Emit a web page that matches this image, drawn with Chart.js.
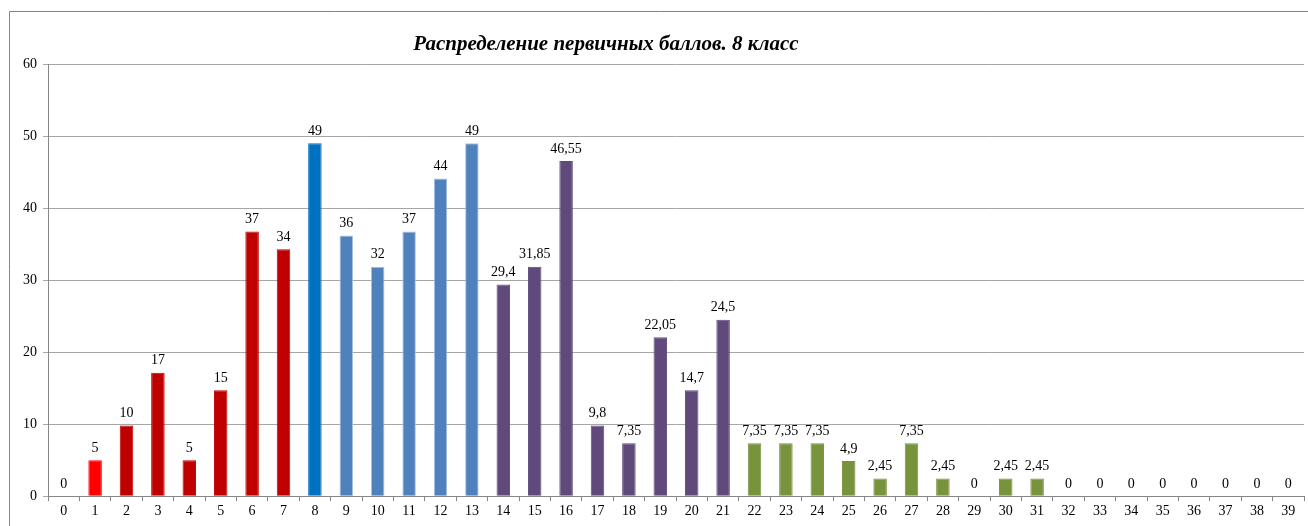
<!DOCTYPE html>
<html>
<head>
<meta charset="utf-8">
<script src="https://cdn.jsdelivr.net/npm/chart.js@4/dist/chart.umd.min.js"></script>
<style>
  html, body { margin: 0; padding: 0; background: #fff; }
  #wrap { position: relative; width: 1308px; height: 526px; }
</style>
</head>
<body>
<div id="wrap"><canvas id="scoreChart" width="1308" height="526"></canvas></div>
<script>
const scores = ["0","1","2","3","4","5","6","7","8","9","10","11","12","13","14","15","16","17","18","19",
  "20","21","22","23","24","25","26","27","28","29","30","31","32","33","34","35","36","37","38","39"];
const percents = [0, 5, 9.8, 17.15, 5, 14.7, 36.75, 34.3, 49, 36.2, 31.85, 36.75, 44.1, 49,
  29.4, 31.85, 46.55, 9.8, 7.35, 22.05, 14.7, 24.5,
  7.35, 7.35, 7.35, 4.9, 2.45, 7.35, 2.45, 0, 2.45, 2.45,
  0, 0, 0, 0, 0, 0, 0, 0];
const valueLabels = ["0","5","10","17","5","15","37","34","49","36","32","37","44","49",
  "29,4","31,85","46,55","9,8","7,35","22,05","14,7","24,5",
  "7,35","7,35","7,35","4,9","2,45","7,35","2,45","0","2,45","2,45",
  "0","0","0","0","0","0","0","0"];
const yTicks = [0, 10, 20, 30, 40, 50, 60];
const chartTitle = "Распределение первичных баллов. 8 класс";

// colour groups by score range
function barColor(i) {
  if (i <= 1) return "#FF0000";
  if (i <= 7) return "#C00000";
  if (i === 8) return "#0070C0";
  if (i <= 13) return "#4F81BD";
  if (i <= 21) return "#604A7B";
  return "#77933C";
}
function barBorder(i) {
  if (i >= 9 && i <= 13) return "#A7C0DE";
  return barColor(i);
}

const serif = "'Liberation Serif', 'Times New Roman', serif";

// outer frame + title (title sits left of centre, like the original)
const frame = {
  id: "frame",
  beforeDraw(chart) {
    const ctx = chart.ctx;
    ctx.save();
    ctx.strokeStyle = "#868686";
    ctx.lineWidth = 1;
    ctx.beginPath();
    ctx.moveTo(9.5, 540);
    ctx.lineTo(9.5, 11.5);
    ctx.lineTo(1320, 11.5);
    ctx.stroke();
    ctx.font = "italic bold 21px " + serif;
    ctx.fillStyle = "#000";
    ctx.textAlign = "center";
    ctx.textBaseline = "middle";
    ctx.fillText(chartTitle, 606, 45);
    ctx.restore();
  }
};

const valueTags = {
  id: "valueTags",
  afterDatasetsDraw(chart) {
    const ctx = chart.ctx;
    const meta = chart.getDatasetMeta(0);
    ctx.save();
    ctx.font = "14px " + serif;
    ctx.fillStyle = "#000";
    ctx.textAlign = "center";
    ctx.textBaseline = "bottom";
    meta.data.forEach((bar, i) => {
      ctx.fillText(valueLabels[i], bar.x, bar.y - 5);
    });
    ctx.restore();
  }
};

new Chart(document.getElementById("scoreChart"), {
  type: "bar",
  data: {
    labels: scores,
    datasets: [{
      data: percents,
      backgroundColor: percents.map((v, i) => barColor(i)),
      borderColor: percents.map((v, i) => barBorder(i)),
      borderWidth: 1,
      barPercentage: 0.43,
      categoryPercentage: 1
    }]
  },
  options: {
    responsive: false,
    animation: false,
    layout: { padding: { left: 17, right: 4, top: 64, bottom: 4 } },
    plugins: {
      legend: { display: false },
      tooltip: { enabled: false },
      title: { display: false }
    },
    scales: {
      x: {
        offset: true,
        grid: {
          offset: true,
          drawOnChartArea: false,
          color: "#868686",
          tickLength: 5
        },
        border: { color: "#868686" },
        ticks: {
          color: "#000",
          font: { family: serif, size: 14 },
          maxRotation: 0,
          autoSkip: false,
          padding: 2
        }
      },
      y: {
        min: 0,
        max: 60,
        afterBuildTicks(axis) { axis.ticks = yTicks.map(v => ({ value: v })); },
        grid: { color: "#A6A6A6", tickLength: 5 },
        border: { color: "#868686" },
        ticks: {
          color: "#000",
          font: { family: serif, size: 14 },
          padding: 6
        }
      }
    }
  },
  plugins: [frame, valueTags]
});
</script>
</body>
</html>
